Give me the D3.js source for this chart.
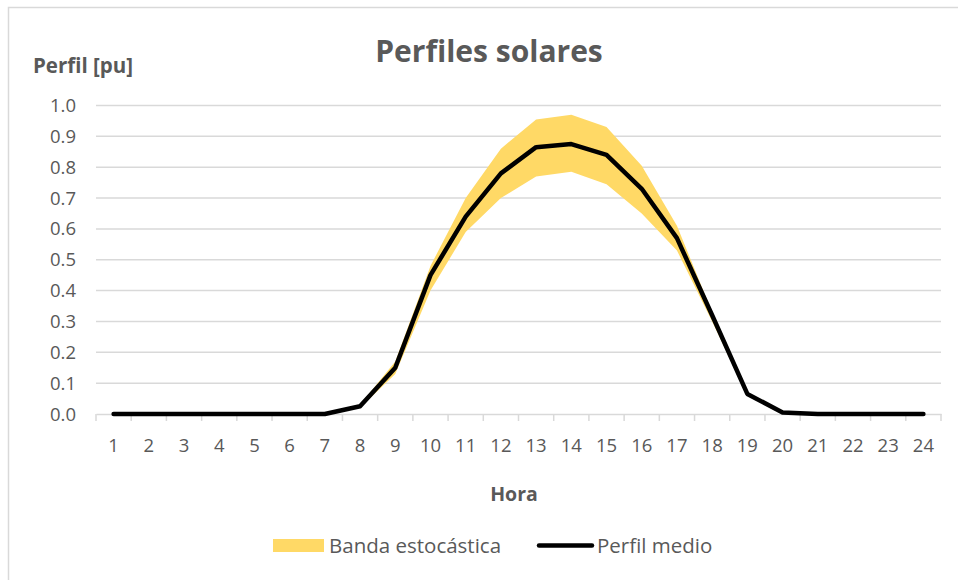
<!DOCTYPE html>
<html>
<head>
<meta charset="utf-8">
<script src="https://cdn.jsdelivr.net/npm/d3@7"></script>
<style>
  body { margin: 0; background: #fff; }
  svg { display: block; font-family: "Open Sans", sans-serif; }
</style>
</head>
<body>
<div id="chart"></div>
<script>
// Hours of the day (categories)
const hours = d3.range(1, 25);
// Mean solar profile [pu]
const meanProfile = [0, 0, 0, 0, 0, 0, 0, 0.025, 0.15, 0.45, 0.64, 0.78,
  0.865, 0.875, 0.84, 0.73, 0.57, 0.32, 0.065, 0.005, 0, 0, 0, 0];
// Stochastic band limits [pu]
const bandLower = [0, 0, 0, 0, 0, 0, 0, 0.02, 0.13, 0.40, 0.59, 0.70,
  0.77, 0.785, 0.745, 0.65, 0.53, 0.30, 0.06, 0.004, 0, 0, 0, 0];
const bandUpper = [0, 0, 0, 0, 0, 0, 0, 0.03, 0.17, 0.48, 0.70, 0.86,
  0.955, 0.97, 0.93, 0.805, 0.61, 0.33, 0.07, 0.008, 0, 0, 0, 0];
const yTicks = [0, 0.1, 0.2, 0.3, 0.4, 0.5, 0.6, 0.7, 0.8, 0.9, 1.0];

const W = 958, H = 580;
const margin = { top: 105.5, right: 17, bottom: 166, left: 96 };
const width = W - margin.left - margin.right;
const height = H - margin.top - margin.bottom;
const textColor = '#595959';
const font = '"Open Sans", sans-serif';

const svg = d3.select('#chart').append('svg')
  .attr('width', W).attr('height', H);

// Chart area border
svg.append('rect')
  .attr('x', 8.5).attr('y', 7.5)
  .attr('width', W).attr('height', H)
  .attr('fill', 'none')
  .attr('stroke', '#d9d9d9')
  .attr('stroke-width', 1.5);

const g = svg.append('g').attr('transform', `translate(${margin.left},${margin.top})`);

const x = d3.scaleBand().domain(hours).range([0, width]);
const y = d3.scaleLinear().domain([0, 1]).range([height, 0]);
const cx = (h) => x(h) + x.bandwidth() / 2;

// Gridlines
g.selectAll('.grid')
  .data(yTicks.filter((d) => d > 0))
  .enter().append('line')
  .attr('x1', 0).attr('x2', width)
  .attr('y1', (d) => y(d)).attr('y2', (d) => y(d))
  .attr('stroke', '#d9d9d9')
  .attr('stroke-width', 1.5);

// Y labels
g.selectAll('.ylab')
  .data(yTicks)
  .enter().append('text')
  .attr('x', -20)
  .attr('y', (d) => y(d) + 6.5)
  .attr('text-anchor', 'end')
  .attr('font-size', 18.5)
  .attr('fill', textColor)
  .text((d) => d.toFixed(1));

// X axis
const xAxis = d3.axisBottom(x).tickSize(0).tickPadding(0);
const axisG = g.append('g')
  .attr('transform', `translate(0,${height})`)
  .call(xAxis);
axisG.select('.domain').attr('stroke', '#d9d9d9').attr('stroke-width', 1.5);
axisG.selectAll('text')
  .attr('font-size', 18.5)
  .attr('font-family', font)
  .attr('fill', textColor)
  .attr('dy', 0)
  .attr('y', 38);
// Category boundary ticks
g.selectAll('.xtick')
  .data(hours.concat([25]))
  .enter().append('line')
  .attr('x1', (h) => h === 25 ? width : x(h))
  .attr('x2', (h) => h === 25 ? width : x(h))
  .attr('y1', height).attr('y2', height + 7)
  .attr('stroke', '#d9d9d9')
  .attr('stroke-width', 1.5);

// Stochastic band
const area = d3.area()
  .x((d, i) => cx(hours[i]))
  .y0((d, i) => y(bandLower[i]))
  .y1((d, i) => y(bandUpper[i]));
g.append('path')
  .datum(hours)
  .attr('d', area)
  .attr('fill', '#ffd966');

// Mean profile line
const line = d3.line()
  .x((d, i) => cx(hours[i]))
  .y((d) => y(d));
g.append('path')
  .datum(meanProfile)
  .attr('d', line)
  .attr('fill', 'none')
  .attr('stroke', '#000')
  .attr('stroke-width', 4.5)
  .attr('stroke-linejoin', 'round')
  .attr('stroke-linecap', 'round');

// Titles
svg.append('text')
  .attr('x', 489).attr('y', 62)
  .attr('text-anchor', 'middle')
  .attr('font-size', 30)
  .attr('font-weight', 'bold')
  .attr('fill', textColor)
  .text('Perfiles solares');

svg.append('text')
  .attr('x', 33).attr('y', 73)
  .attr('font-size', 20.5)
  .attr('font-weight', 'bold')
  .attr('fill', textColor)
  .text('Perfil [pu]');

svg.append('text')
  .attr('x', 514).attr('y', 501)
  .attr('text-anchor', 'middle')
  .attr('font-size', 19.5)
  .attr('font-weight', 'bold')
  .attr('fill', textColor)
  .text('Hora');

// Legend
const legend = svg.append('g');
legend.append('rect')
  .attr('x', 273).attr('y', 539)
  .attr('width', 51).attr('height', 13)
  .attr('fill', '#ffd966');
legend.append('text')
  .attr('x', 329).attr('y', 552.5)
  .attr('font-size', 20.5)
  .attr('fill', textColor)
  .text('Banda estocástica');
legend.append('line')
  .attr('x1', 539).attr('x2', 592)
  .attr('y1', 545.5).attr('y2', 545.5)
  .attr('stroke', '#000')
  .attr('stroke-width', 4.5)
  .attr('stroke-linecap', 'round');
legend.append('text')
  .attr('x', 597).attr('y', 552.5)
  .attr('font-size', 20.5)
  .attr('fill', textColor)
  .text('Perfil medio');
</script>
</body>
</html>
